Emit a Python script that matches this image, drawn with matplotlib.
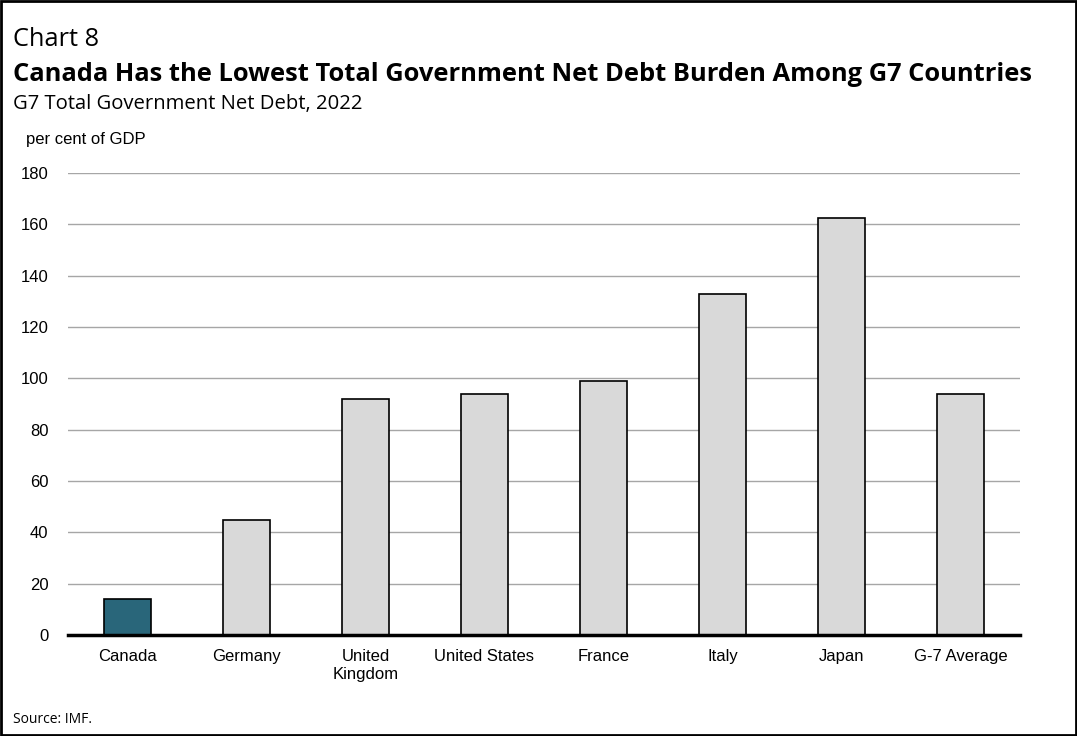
import matplotlib.pyplot as plt
from matplotlib.patches import Rectangle

countries = ["Canada", "Germany", "United\nKingdom", "United States",
             "France", "Italy", "Japan", "G-7 Average"]
net_debt = [14, 45, 92, 94, 99, 133, 162.5, 94]
yticks = [0, 20, 40, 60, 80, 100, 120, 140, 160, 180]

canada_color = "#29667a"
other_color = "#d9d9d9"

fig = plt.figure(figsize=(10.77, 7.36), dpi=100)
ax = fig.add_axes([68 / 1077, 1 - 635 / 736, 952 / 1077, 462 / 736])

colors = [canada_color] + [other_color] * (len(countries) - 1)
x = range(len(countries))
ax.bar(x, net_debt, width=0.4, color=colors, edgecolor="black", linewidth=1.2, zorder=3)

ax.set_xlim(-0.5, len(countries) - 0.5)
ax.set_ylim(0, 180)
ax.set_yticks(yticks)
ax.set_xticks(list(x))
ax.set_xticklabels(countries, fontfamily="Liberation Sans", fontsize=12, linespacing=1.25)
ax.tick_params(axis="y", length=0, pad=14, labelsize=12)
ax.tick_params(axis="x", length=0, pad=10)
for lbl in ax.get_yticklabels():
    lbl.set_fontfamily("Liberation Sans")
ax.grid(axis="y", color="#a6a6a6", linewidth=1, zorder=0)
ax.set_axisbelow(True)
for side in ["top", "right", "left"]:
    ax.spines[side].set_visible(False)
ax.spines["bottom"].set_linewidth(2.5)
ax.spines["bottom"].set_zorder(4)

# headings
left = 13 / 1077
fig.text(left, 1 - 46 / 736, "Chart 8", fontfamily="Open Sans", fontsize=18.3)
fig.text(left, 1 - 81 / 736,
         "Canada Has the Lowest Total Government Net Debt Burden Among G7 Countries",
         fontfamily="Open Sans", fontweight="bold", fontsize=18.35)
fig.text(left, 1 - 109 / 736, "G7 Total Government Net Debt, 2022",
         fontfamily="Open Sans", fontsize=14.6)
fig.text(26 / 1077, 1 - 144 / 736, "per cent of GDP",
         fontfamily="Liberation Sans", fontsize=12)
fig.text(left, 1 - 723 / 736, "Source: IMF.",
         fontfamily="Open Sans", fontsize=10)

# outer frame
fig.patches.append(Rectangle((0.001, 0.0015), 0.998, 0.997, transform=fig.transFigure,
                             fill=False, edgecolor="black", linewidth=2))

fig.savefig("out.png", dpi=100)
